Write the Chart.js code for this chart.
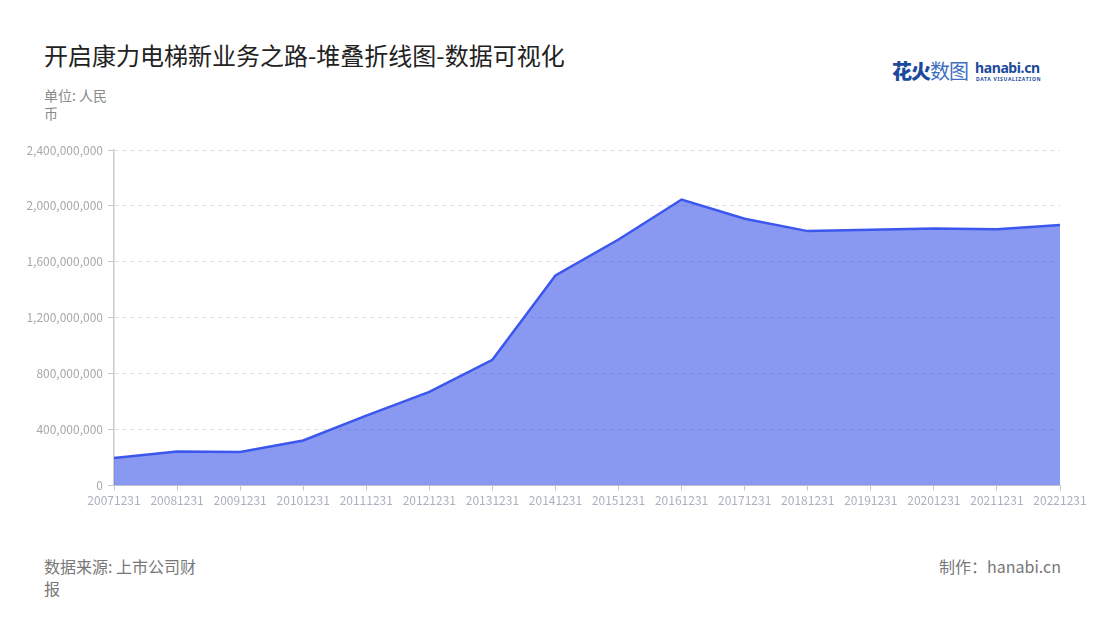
<!DOCTYPE html>
<html>
<head>
<meta charset="utf-8">
<script src="https://cdn.jsdelivr.net/npm/chart.js@4"></script>
<style>
  html, body { margin:0; padding:0; background:#fff; }
  body { width:1100px; height:620px; position:relative; overflow:hidden; font-family:"Noto Sans CJK SC","Noto Sans",sans-serif; }
  #title { position:absolute; left:44px; top:38px; font-size:24px; color:#222; white-space:nowrap; line-height:34px; }
  #unit { position:absolute; left:44px; top:86px; width:68px; font-size:14px; color:#8a8a8a; line-height:18px; }
  #source { position:absolute; left:44px; top:555px; width:160px; font-size:16px; color:#777; line-height:22px; }
  #maker { position:absolute; right:39px; top:555px; font-size:16px; color:#777; line-height:22px; }
  #logo { position:absolute; left:892px; top:58px; height:28px; }
  #logo .cn1 { position:absolute; left:0; top:-2px; font-size:20px; font-weight:900; color:#1b4a9c; letter-spacing:-1px; white-space:nowrap; }
  #logo .cn2 { color:#3f6fc0; font-weight:400; }
  #logo .en { position:absolute; left:83px; top:0px; font-family:"Noto Sans",sans-serif; font-size:14px; font-weight:700; color:#1b4a9c; white-space:nowrap; letter-spacing:-0.4px; }
  #logo .sub { position:absolute; left:84px; top:18px; font-family:"Noto Sans",sans-serif; font-size:5px; font-weight:700; color:#1b4a9c; white-space:nowrap; letter-spacing:0.7px; }
  #wrap { position:absolute; left:0; top:130px; width:1100px; height:390px; }
</style>
</head>
<body>
<div id="title">开启康力电梯新业务之路-堆叠折线图-数据可视化</div>
<div id="logo"><span class="cn1">花火<span class="cn2">数图</span></span><span class="en">hanabi.cn</span><span class="sub">DATA VISUALIZATION</span></div>
<div id="unit">单位: 人民币</div>
<div id="source">数据来源: 上市公司财报</div>
<div id="maker">制作：hanabi.cn</div>
<div id="wrap"><canvas id="c" width="1100" height="390"></canvas></div>
<script>
const categories = ["20071231","20081231","20091231","20101231","20111231","20121231","20131231","20141231","20151231","20161231","20171231","20181231","20191231","20201231","20211231","20221231"];
const revenue = [198000000, 243000000, 240000000, 323000000, 500000000, 670000000, 900000000, 1503000000, 1760000000, 2046000000, 1908000000, 1820000000, 1829000000, 1838000000, 1834000000, 1864000000];
const yTicks = [0, 400000000, 800000000, 1200000000, 1600000000, 2000000000, 2400000000];

const font = { family: '"Noto Sans CJK SC","Noto Sans",sans-serif' };
new Chart(document.getElementById('c'), {
  type: 'line',
  data: {
    labels: categories,
    datasets: [{
      data: revenue,
      borderColor: '#3b57ee',
      backgroundColor: 'rgba(58,84,232,0.6)',
      borderWidth: 2.5,
      fill: 'origin',
      pointRadius: 0,
      tension: 0
    }]
  },
  options: {
    responsive: false,
    animation: false,
    devicePixelRatio: 1,
    layout: { padding: { left: 0, right: 40, top: 20, bottom: 9 } },
    plugins: { legend: { display: false }, tooltip: { enabled: false } },
    scales: {
      x: {
        offset: false,
        grid: { display: true, drawOnChartArea: false, drawTicks: true, tickLength: 5, color: '#c8c8c8' },
        border: { display: true, color: '#c8c8c8', width: 1 },
        ticks: { color: '#aab0bd', font: { ...font, size: 12 }, maxRotation: 0, autoSkip: false, padding: 3 }
      },
      y: {
        min: 0, max: 2400000000,
        afterFit: (s) => { s.width = 114; },
        afterBuildTicks: (s) => { s.ticks = yTicks.map(v => ({ value: v })); },
        grid: { color: '#dddddd', drawTicks: true, tickLength: 6, tickColor: '#c8c8c8' },
        border: { display: true, color: '#cccccc', width: 1.5, dash: [4, 4] },
        ticks: { color: '#a8a8a8', font: { ...font, size: 12 }, padding: 5,
          callback: (v) => v.toLocaleString('en-US') }
      }
    }
  }
});
</script>
</body>
</html>
